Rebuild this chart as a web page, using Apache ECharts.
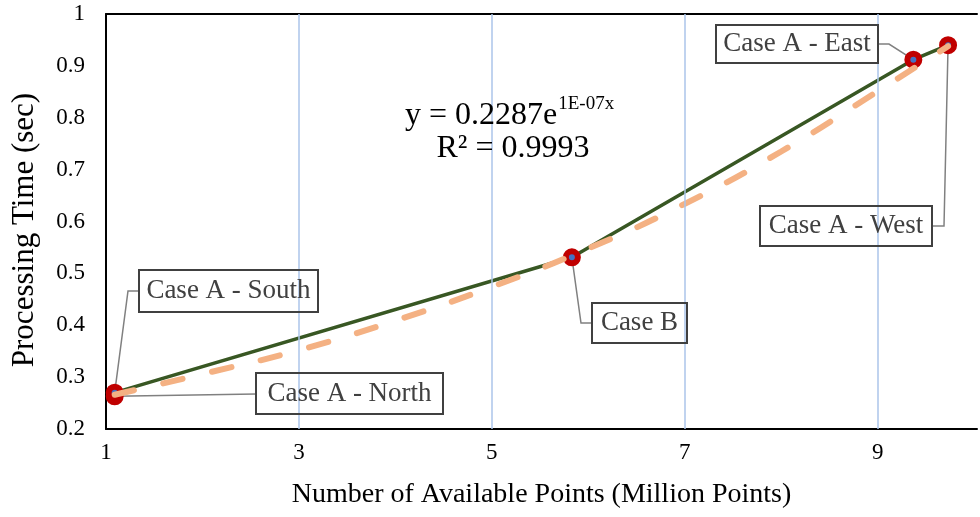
<!DOCTYPE html>
<html><head><meta charset="utf-8">
<script src="https://cdn.jsdelivr.net/npm/echarts@6/dist/echarts.min.js"></script>
<style>html,body{margin:0;padding:0;background:#fff}#c{width:980px;height:517px}</style>
</head><body><div id="c"></div>
<script>
// ---- data ----
const pointNames = ['Case A - North', 'Case A - South', 'Case B', 'Case A - East', 'Case A - West'];
const pointX = [1.09, 1.09, 5.83, 9.37, 9.73];
const pointY = [0.263, 0.270, 0.531, 0.912, 0.940];
const trendX = [1.09, 2, 3, 4, 5, 6, 7, 8, 9, 9.73];
const trendY = [0.266, 0.306, 0.352, 0.409, 0.474, 0.548, 0.634, 0.735, 0.851, 0.938];
const xTicks = [1, 3, 5, 7, 9];
const gridX = [3, 5, 7, 9];
const yTicks = [0.2, 0.3, 0.4, 0.5, 0.6, 0.7, 0.8, 0.9, 1];
const xTitle = 'Number of Available Points (Million Points)';
const yTitle = 'Processing Time (sec)';
const eqMain = 'y = 0.2287e';
const eqSup = '1E-07x';
const eqR2 = 'R² = 0.9993';

const FONT = '"Liberation Serif", "Times New Roman", serif';
const chart = echarts.init(document.getElementById('c'), null, {renderer: 'canvas'});
const X_MAX = 10.03;

const option = {
  animation: false,
  backgroundColor: '#fff',
  grid: {left: 106, top: 14, right: 0, bottom: 88, containLabel: false},
  xAxis: [{
    type: 'value', min: xTicks[0], max: X_MAX, interval: 2,
    axisLine: {show: true, onZero: false, lineStyle: {color: '#000', width: 2}},
    axisTick: {show: false}, splitLine: {show: false},
    axisLabel: {color: '#000', fontFamily: FONT, fontSize: 23, margin: 12,
      formatter: v => xTicks.indexOf(Math.round(v * 1000) / 1000) >= 0 ? String(v) : ''},
    name: xTitle, nameLocation: 'middle', nameGap: 52,
    nameTextStyle: {color: '#000', fontFamily: FONT, fontSize: 28}
  }, {
    type: 'value', position: 'top', min: xTicks[0], max: X_MAX,
    axisLine: {show: true, onZero: false, lineStyle: {color: '#000', width: 2}},
    axisTick: {show: false}, axisLabel: {show: false}, splitLine: {show: false}
  }],
  yAxis: {
    type: 'value', min: yTicks[0], max: yTicks[yTicks.length - 1], interval: 0.1,
    axisLine: {show: true, onZero: false, lineStyle: {color: '#000', width: 2}},
    axisTick: {show: false}, splitLine: {show: false},
    axisLabel: {color: '#000', fontFamily: FONT, fontSize: 23, margin: 21,
      formatter: v => String(+v.toFixed(1))}
  },
  series: [{
    type: 'line', data: [], z: 1, silent: true,
    markLine: {
      silent: true, symbol: 'none', label: {show: false},
      lineStyle: {color: '#ABC4EA', width: 1.5, type: 'solid'},
      data: gridX.map(v => ({xAxis: v}))
    }
  }, {
    type: 'line', z: 3,
    data: pointX.map((x, i) => [x, pointY[i]]),
    lineStyle: {color: '#385723', width: 3.5},
    symbol: 'circle', symbolSize: 12,
    itemStyle: {color: '#4472C4', borderColor: '#C00000', borderWidth: 6},
    label: {show: false}
  }, {
    type: 'line', z: 4, smooth: true, symbol: 'none',
    data: trendX.map((x, i) => [x, trendY[i]]),
    lineStyle: {color: '#F4B183', width: 6, type: [20, 30], cap: 'round'}
  }]
};
chart.setOption(option);

// annotation boxes (pixel placement of the callouts)
const callouts = [
  {idx: 1, rect: [139, 270, 179, 42], elbow: [[128, 291], [139, 291]]},
  {idx: 0, rect: [256, 373, 187, 41], elbow: [[256, 394]]},
  {idx: 2, rect: [592, 303, 95, 40], elbow: [[581, 323], [592, 323]]},
  {idx: 3, rect: [716, 25, 162, 38], elbow: [[889, 44], [878, 44]]},
  {idx: 4, rect: [760, 206, 172, 40], elbow: [[944, 226], [932, 226]]}
];
const graphics = [];
callouts.forEach(c => {
  const p = chart.convertToPixel({seriesIndex: 1}, [pointX[c.idx], pointY[c.idx]]);
  const pts = [p].concat(c.elbow);
  graphics.push({type: 'polyline', z: 1, shape: {points: pts},
    style: {stroke: '#808080', lineWidth: 1.5, fill: 'none'}});
  const [x, y, w, h] = c.rect;
  graphics.push({type: 'rect', z: 5, shape: {x: x, y: y, width: w, height: h},
    style: {fill: 'none', stroke: '#404040', lineWidth: 2}});
  graphics.push({type: 'text', z: 6, x: x + w / 2, y: y + h / 2,
    style: {text: pointNames[c.idx], font: '27px ' + FONT, fill: '#404040', align: 'center', verticalAlign: 'middle'}});
});
// trendline equation
const eqFont = '32px ' + FONT;
const ctx = document.createElement('canvas').getContext('2d');
ctx.font = eqFont;
const eqW = ctx.measureText(eqMain).width;
graphics.push({type: 'text', z: 6, x: 405, y: 116,
  style: {text: eqMain, font: eqFont, fill: '#000', align: 'left', verticalAlign: 'middle'}});
graphics.push({type: 'text', z: 6, x: 405 + eqW + 1, y: 104,
  style: {text: eqSup, font: '19px ' + FONT, fill: '#000', align: 'left', verticalAlign: 'middle'}});
graphics.push({type: 'text', z: 6, x: 513, y: 149,
  style: {text: eqR2, font: eqFont, fill: '#000', align: 'center', verticalAlign: 'middle'}});
// y axis title
graphics.push({type: 'text', z: 6, x: 25, y: 230, rotation: Math.PI / 2,
  style: {text: yTitle, font: '31px ' + FONT, fill: '#000', align: 'center', verticalAlign: 'middle'}});
chart.setOption({graphic: {elements: graphics}});
</script>
</body></html>
